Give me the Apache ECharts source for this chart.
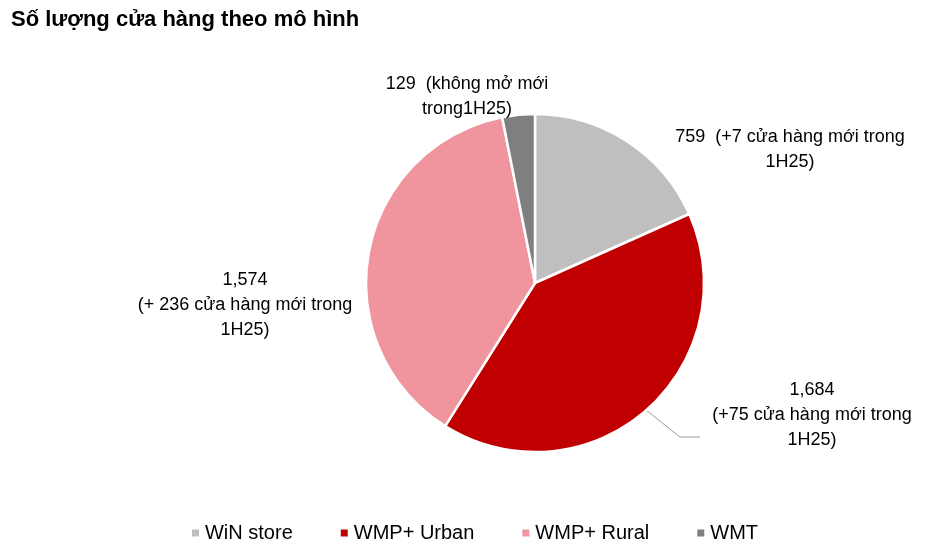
<!DOCTYPE html>
<html><head><meta charset="utf-8">
<script src="https://cdn.jsdelivr.net/npm/echarts@6/dist/echarts.min.js"></script>
<style>html,body{margin:0;padding:0;background:#fff}#c{width:948px;height:552px}</style>
</head><body><div id="c"></div>
<script>
const categories = ['WiN store', 'WMP+ Urban', 'WMP+ Rural', 'WMT'];
const values = [759, 1684, 1574, 129];
const labelTexts = [
  '759  (+7 cửa hàng mới trong\n1H25)',
  '1,684\n(+75 cửa hàng mới trong\n1H25)',
  '1,574\n(+ 236 cửa hàng mới trong\n1H25)',
  '129  (không mở mới\ntrong1H25)'
];
const colors = ['#bfbfbf', '#c00000', '#f0949e', '#7f7f7f'];
const labelPos = [[790, 150], [812, 415], [245, 305], [467, 97]];
const F = '"Liberation Sans Narrow","Liberation Sans",Arial,sans-serif';
const chart = echarts.init(document.getElementById('c'));
chart.setOption({
  animation: false,
  title: {text: 'Số lượng cửa hàng theo mô hình', left: 6, top: 4,
    textStyle: {fontFamily: F, fontSize: 22, fontWeight: 'bold', color: '#000'}},
  legend: {bottom: 4, left: 'center', itemWidth: 9, itemHeight: 9, itemGap: 46, icon: 'rect',
    textStyle: {fontFamily: F, fontSize: 20, color: '#000'}, data: categories},
  series: [{
    type: 'pie', center: [535, 283], radius: 169, startAngle: 90, clockwise: true,
    itemStyle: {borderColor: '#fff', borderWidth: 2.5},
    label: {show: true, fontFamily: F, fontSize: 18, lineHeight: 25, color: '#000', align: 'center',
      formatter: p => labelTexts[p.dataIndex]},
    labelLine: {show: false, lineStyle: {color: '#999', width: 1}},
    labelLayout: p => {
      const pos = labelPos[p.dataIndex];
      const r = {x: pos[0], y: pos[1], align: 'center', verticalAlign: 'middle'};
      if (p.dataIndex === 1) r.labelLinePoints = [[646, 410], [680, 437], [700, 437]];
      return r;
    },
    data: categories.map((c, i) => ({name: c, value: values[i], itemStyle: {color: colors[i]},
      labelLine: {show: i === 1}}))
  }]
});
</script></body></html>
